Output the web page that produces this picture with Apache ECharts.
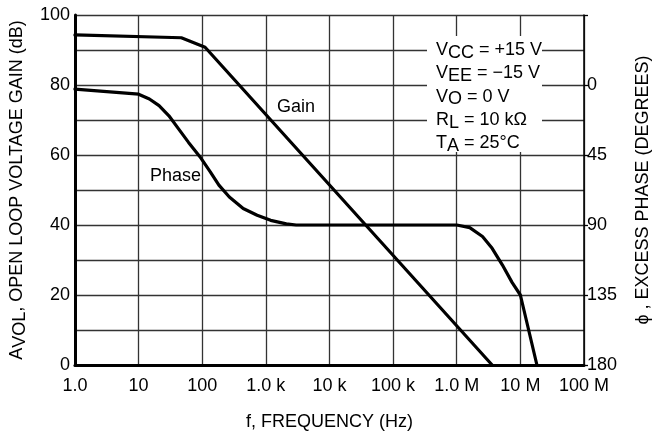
<!DOCTYPE html>
<html>
<head>
<meta charset="utf-8">
<script src="https://cdn.jsdelivr.net/npm/echarts@6/dist/echarts.min.js"></script>
<style>
html,body{margin:0;padding:0;background:#fff;}
#c{width:660px;height:436px;}
</style>
</head>
<body>
<div id="c"></div>
<script>
// ---- data ----
const xTickLabels = ['1.0', '10', '100', '1.0 k', '10 k', '100 k', '1.0 M', '10 M', '100 M'];
const gainFreq = [1, 47, 111, 3.6e6];
const gainDb = [94.3, 93.5, 90.8, 0];
const phaseFreq = [1, 10, 14.8, 21, 30, 42.8, 61, 92, 134, 183, 267, 441, 731, 1190, 2100, 3000,
  1.0e6, 1.6e6, 2.54e6, 3.6e6, 5.2e6, 7.4e6, 1.0e7, 1.35e7, 1.82e7];
const phaseDeg = [2.7, 5.9, 9, 13.3, 19.8, 28.4, 36.9, 46.1, 55.8, 64.4, 72, 79.4, 83.7, 87, 89.3, 90,
  90, 91.7, 97.4, 105, 115.6, 126.9, 135, 157.5, 180];
const conditions = [
  ['V', 'CC', ' = +15 V'],
  ['V', 'EE', ' = \u221215 V'],
  ['V', 'O', ' = 0 V'],
  ['R', 'L', ' = 10 k\u03A9'],
  ['T', 'A', ' = 25\u00B0C']
];

const FONT = "'Liberation Sans', Arial, sans-serif";
const FS = 18;
const chart = echarts.init(document.getElementById('c'));

const gainData = gainFreq.map((f, i) => [f, gainDb[i]]);
const phaseData = phaseFreq.map((f, i) => [f, phaseDeg[i]]);

const condText = conditions.map(c => `{m|${c[0]}}{s|${c[1]}}{m|${c[2]}}`).join('\n');

chart.setOption({
  animation: false,
  backgroundColor: '#fff',
  textStyle: { fontFamily: FONT, color: '#000' },
  grid: { left: 72, right: 74, top: 15, bottom: 70 },
  xAxis: {
    type: 'log', logBase: 10, min: 1, max: 1e8, interval: 1,
    name: 'f, FREQUENCY (Hz)', nameLocation: 'middle', nameGap: 48,
    nameTextStyle: { fontSize: FS, fontFamily: FONT, color: '#000' },
    axisLine: { show: true, onZero: false, lineStyle: { color: '#000', width: 3 } },
    axisTick: { show: false },
    axisLabel: {
      fontSize: FS, fontFamily: FONT, color: '#000', margin: 12,
      formatter: v => xTickLabels[Math.round(Math.log10(v))]
    },
    splitLine: { show: true, lineStyle: { color: '#333', width: 1.3 } },
    minorSplitLine: { show: false }
  },
  yAxis: [{
    type: 'value', min: 0, max: 100, interval: 10, position: 'left',
    name: 'A{s|VOL}, OPEN LOOP VOLTAGE GAIN (dB)', nameLocation: 'middle', nameGap: 36, nameRotate: 90,
    nameTextStyle: { fontSize: FS, fontFamily: FONT, color: '#000',
      rich: { s: { fontSize: FS, fontFamily: FONT, color: '#000', padding: [6, 0, 0, 0] } } },
    axisLine: { show: true, lineStyle: { color: '#000', width: 3 } },
    axisTick: { show: false },
    axisLabel: { fontSize: FS, fontFamily: FONT, color: '#000', margin: 5,
      formatter: v => (v % 20 === 0 ? String(v) : '') },
    splitLine: { show: true, lineStyle: { color: '#333', width: 1.3 } }
  }, {
    type: 'value', min: -45, max: 180, interval: 45, position: 'right', inverse: true,
    name: '\u03D5 , EXCESS PHASE (DEGREES)', nameLocation: 'middle', nameGap: 50, nameRotate: 90,
    nameTextStyle: { fontSize: FS, fontFamily: FONT, color: '#000' },
    axisLine: { show: true, lineStyle: { color: '#000', width: 1.5 } },
    axisTick: { show: true, inside: false, length: 4, lineStyle: { color: '#000', width: 1.3 } },
    axisLabel: { fontSize: FS, fontFamily: FONT, color: '#000', margin: 3,
      formatter: v => (v < 0 ? '' : String(v)) },
    splitLine: { show: false }
  }],
  series: [{
    name: 'Gain', type: 'line', yAxisIndex: 0, data: gainData,
    showSymbol: false, symbol: 'none', smooth: false,
    lineStyle: { color: '#000', width: 3.2, join: 'round', cap: 'round' }, z: 5
  }, {
    name: 'Phase', type: 'line', yAxisIndex: 1, data: phaseData,
    showSymbol: false, symbol: 'none', smooth: false,
    lineStyle: { color: '#000', width: 3.2, join: 'round', cap: 'round' }, z: 5
  }],
  graphic: [
    { type: 'rect', left: 427, top: 36, shape: { width: 115, height: 116 }, style: { fill: '#fff' }, z: 10 },
    { type: 'text', left: 436, top: 41, z: 11,
      style: { text: condText, fontFamily: FONT, fontSize: FS, fill: '#000',
        rich: {
          m: { fontSize: FS, fontFamily: FONT, fill: '#000', color: '#000', lineHeight: 14, verticalAlign: 'top' },
          s: { fontSize: FS, fontFamily: FONT, fill: '#000', color: '#000', lineHeight: 23.3, verticalAlign: 'middle' }
        } } },
    { type: 'text', left: 277, top: 98, z: 11,
      style: { text: 'Gain', fontFamily: FONT, fontSize: FS, fill: '#000' } },
    { type: 'text', left: 150, top: 167, z: 11,
      style: { text: 'Phase', fontFamily: FONT, fontSize: FS, fill: '#000' } }
  ]
});
</script>
</body>
</html>
